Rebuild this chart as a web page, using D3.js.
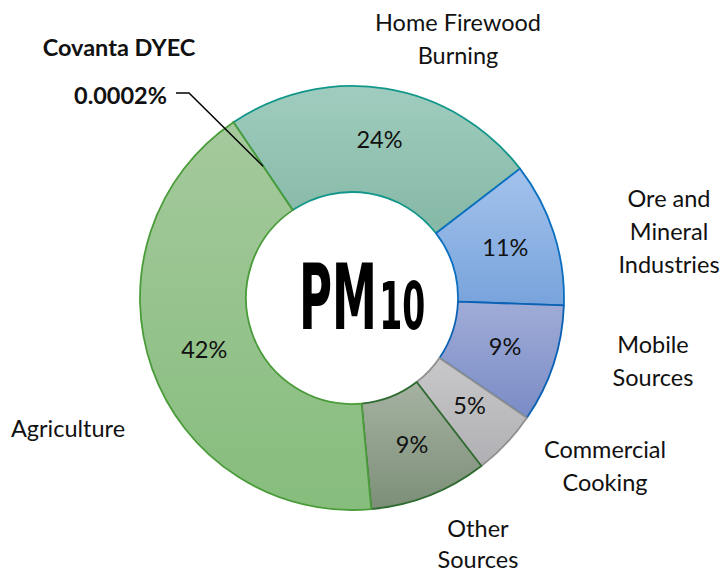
<!DOCTYPE html>
<html>
<head>
<meta charset="utf-8">
<script src="https://cdn.jsdelivr.net/npm/d3@7/dist/d3.min.js"></script>
<style>
  html, body { margin: 0; padding: 0; background: #fff; }
  svg { display: block; }
</style>
</head>
<body>
<div id="chart"></div>
<script>
// ---- data ----
const categories = ["Covanta DYEC", "Home Firewood Burning", "Ore and Mineral Industries", "Mobile Sources", "Commercial Cooking", "Other Sources", "Agriculture"];
const values = [0.0002, 24, 11, 9, 5, 9, 42];
const valueLabels = ["0.0002%", "24%", "11%", "9%", "5%", "9%", "42%"];
const labelLines = [["Covanta DYEC"], ["Home Firewood", "Burning"], ["Ore and", "Mineral", "Industries"], ["Mobile", "Sources"], ["Commercial", "Cooking"], ["Other", "Sources"], ["Agriculture"]];
const titleMain = "PM", titleSub = "10";

// ---- styling / layout (not data) ----
const W = 720, H = 576;
const cx = 352, cy = 298, rOuter = 212, rInner = 106;
const startDeg = -34;
const fills = [
  ["#a5c89c", "#8dbf84"],
  ["#9fccbe", "#86b8a6"],
  ["#a4c3ed", "#78a3db"],
  ["#a0acd7", "#7a8cc6"],
  ["#c8c8ca", "#b0b0b4"],
  ["#a6b2a2", "#7c8e78"],
  ["#a5c99d", "#86bd7c"]
];
const strokes = ["#4a9c3a", "#12968a", "#0b6fc0", "#0b62b5", "#8f8f8f", "#2f6b30", "#4a9c3a"];
// outside category label anchors (centre x, first line baseline, line spacing)
const outsideLabelPos = [null, [458, 31, 33], [669, 207, 33], [653, 353, 33], [605, 458, 33], [478, 537, 31], [68, 437, 33]];
const font = "Lato, 'Open Sans', sans-serif";
const fs = 23.5;

const svg = d3.select("#chart").append("svg").attr("width", W).attr("height", H);
const defs = svg.append("defs");
fills.forEach((f, i) => {
  const g = defs.append("linearGradient").attr("id", "g" + i)
    .attr("x1", 0).attr("y1", 0).attr("x2", 0).attr("y2", 1);
  g.append("stop").attr("offset", "0%").attr("stop-color", f[0]);
  g.append("stop").attr("offset", "100%").attr("stop-color", f[1]);
});

const pie = d3.pie().sort(null).value(d => d)
  .startAngle(startDeg * Math.PI / 180)
  .endAngle(startDeg * Math.PI / 180 + 2 * Math.PI);
const arcs = pie(values);
const arc = d3.arc().innerRadius(rInner).outerRadius(rOuter);
const midArc = d3.arc().innerRadius(rInner + 48).outerRadius(rOuter - 48);

const g = svg.append("g").attr("transform", `translate(${cx},${cy})`);
g.selectAll("path.slice").data(arcs).enter().append("path")
  .attr("class", "slice")
  .attr("d", arc)
  .attr("fill", (d, i) => `url(#g${i})`)
  .attr("stroke", (d, i) => strokes[i])
  .attr("stroke-width", 1.8)
  .attr("stroke-linejoin", "round");

// percentage labels
g.selectAll("text.pct").data(arcs.filter(d => d.index > 0)).enter()
  .append("text")
  .attr("class", "pct")
  .attr("transform", d => { const c = midArc.centroid(d); return `translate(${c[0] + 2},${c[1] - 2})`; })
  .attr("text-anchor", "middle")
  .attr("dominant-baseline", "central")
  .attr("font-family", font)
  .attr("font-size", fs)
  .attr("fill", "#111")
  .text(d => valueLabels[d.index]);

// outside labels
arcs.forEach((d, i) => {
  const p = outsideLabelPos[i];
  if (!p) return;
  const t = svg.append("text")
    .attr("text-anchor", "middle")
    .attr("font-family", font)
    .attr("font-size", fs)
    .attr("fill", "#111");
  labelLines[i].forEach((ln, k) => {
    t.append("tspan").attr("x", p[0]).attr("y", p[1] + k * p[2]).text(ln);
  });
});

// Covanta callout
svg.append("text")
  .attr("x", 119).attr("y", 56)
  .attr("text-anchor", "middle")
  .attr("font-family", font).attr("font-weight", "bold").attr("font-size", fs)
  .attr("fill", "#111").text(labelLines[0][0]);
svg.append("text")
  .attr("x", 167).attr("y", 104)
  .attr("text-anchor", "end")
  .attr("font-family", font).attr("font-weight", "bold").attr("font-size", fs)
  .attr("fill", "#111").text(valueLabels[0]);
const cov = arcs[0];
const covA = (cov.startAngle + cov.endAngle) / 2;
const tip = [cx + Math.sin(covA) * (rOuter * 0.75), cy - Math.cos(covA) * (rOuter * 0.75)];
svg.append("polyline")
  .attr("points", `176,93 189,93 ${tip[0]},${tip[1]}`)
  .attr("fill", "none").attr("stroke", "#000").attr("stroke-width", 1.5);

// centre title PM10 (single text, horizontally condensed)
const title = svg.append("text")
  .attr("font-family", "'DejaVu Sans Condensed', 'DejaVu Sans', sans-serif")
  .attr("font-weight", "bold")
  .attr("fill", "#000");
title.append("tspan").attr("font-size", 90).text(titleMain);
title.append("tspan").attr("font-size", 66).attr("dx", 4).text(titleSub);
const tw = title.node().getComputedTextLength();
const targetW = 124;
title.attr("transform", `translate(299,329) scale(${targetW / tw},1)`);
</script>
</body>
</html>
